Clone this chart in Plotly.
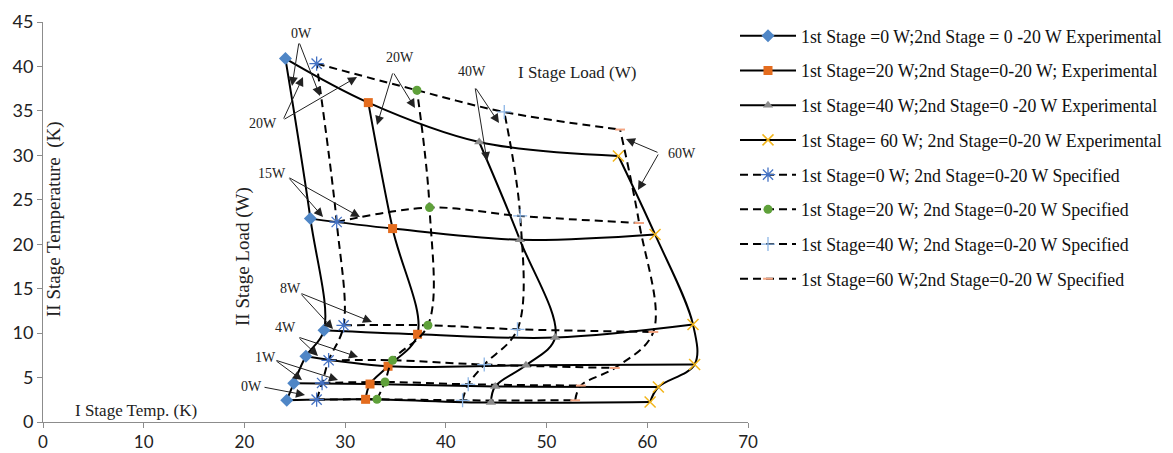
import plotly.graph_objects as go

# ---------------- data ----------------
# 2nd stage loads (W) for each point along a series, bottom to top
loads_2nd = [0, 1, 4, 8, 15, 20]

# Experimental series: I stage temp (x, K) and II stage temp (y, K)
exp0_x = [24.2, 24.9, 26.1, 27.9, 26.55, 24.07]
exp0_y = [2.44, 4.35, 7.39, 10.32, 22.88, 40.88]
exp20_x = [32.03, 32.47, 34.26, 37.19, 34.71, 32.30]
exp20_y = [2.55, 4.27, 6.27, 9.87, 21.76, 35.93]
exp40_x = [44.47, 44.9, 47.95, 50.85, 47.35, 43.31]
exp40_y = [2.18, 4.0, 6.38, 9.5, 20.5, 31.5]
exp60_x = [60.28, 61.1, 64.7, 64.54, 60.77, 57.13]
exp60_y = [2.25, 3.94, 6.46, 10.96, 21.1, 29.93]

# Specified series
spec0_x = [27.17, 27.71, 28.36, 29.85, 29.16, 27.17]
spec0_y = [2.52, 4.39, 6.94, 10.88, 22.5, 40.32]
spec20_x = [33.16, 33.96, 34.71, 38.22, 38.38, 37.13]
spec20_y = [2.55, 4.5, 6.94, 10.88, 24.12, 37.32]
spec40_x = [41.66, 42.22, 43.81, 47.11, 47.38, 45.8]
spec40_y = [2.44, 4.24, 6.46, 10.43, 23.18, 34.88]
spec60_x = [52.84, 53.4, 56.78, 60.6, 59.19, 57.3]
spec60_y = [2.44, 4.1, 6.08, 10.13, 22.39, 32.9]

series_names = [
    "1st Stage =0 W;2nd Stage = 0 -20 W Experimental",
    "1st Stage=20 W;2nd Stage=0-20 W; Experimental",
    "1st Stage=40 W;2nd Stage=0 -20 W Experimental",
    "1st Stage= 60 W; 2nd Stage=0-20 W Experimental",
    "1st Stage=0 W; 2nd Stage=0-20 W Specified",
    "1st Stage=20 W; 2nd Stage=0-20 W Specified",
    "1st Stage=40 W; 2nd Stage=0-20 W Specified",
    "1st Stage=60 W;2nd Stage=0-20 W Specified",
]

x_tick_vals = [0, 10, 20, 30, 40, 50, 60, 70]
y_tick_vals = [0, 5, 10, 15, 20, 25, 30, 35, 40, 45]

# ---------------- styling ----------------
SERIF = "Liberation Serif, Times New Roman, serif"
SANS = "Lato, Open Sans, sans-serif"
DASH = "8px,5px"

exp_sets = [(exp0_x, exp0_y), (exp20_x, exp20_y), (exp40_x, exp40_y), (exp60_x, exp60_y)]
spec_sets = [(spec0_x, spec0_y), (spec20_x, spec20_y), (spec40_x, spec40_y), (spec60_x, spec60_y)]

exp_markers = [
    dict(symbol="diamond", size=10, color="#4F86C6"),
    dict(symbol="square", size=9, color="#E46C1E"),
    dict(symbol="triangle-up", size=9, color="#8C8C8C"),
    dict(symbol="x-thin-open", size=11, color="#F2B51A", line=dict(color="#F2B51A", width=1.5)),
]
spec_markers = [
    dict(symbol="asterisk-open", size=12, color="#4472C4", line=dict(color="#4472C4", width=1.3)),
    dict(symbol="circle", size=9, color="#5FA13A"),
    dict(symbol="cross-thin-open", size=10, color="#8DB6E6", line=dict(color="#8DB6E6", width=1.3)),
    dict(symbol="line-ew-open", size=7, color="#F4A582", line=dict(color="#F4A582", width=2)),
]

fig = go.Figure()

# iso-lines of constant 2nd stage load (connect the series at the same load)
for i, _ld in enumerate(loads_2nd):
    fig.add_trace(go.Scatter(
        x=[s[0][i] for s in exp_sets], y=[s[1][i] for s in exp_sets],
        mode="lines", line=dict(color="black", width=2, shape="spline"),
        showlegend=False, hoverinfo="skip"))
    fig.add_trace(go.Scatter(
        x=[s[0][i] for s in spec_sets], y=[s[1][i] for s in spec_sets],
        mode="lines", line=dict(color="black", width=2, dash=DASH, shape="spline"),
        showlegend=False, hoverinfo="skip"))

for k, (xs, ys) in enumerate(exp_sets):
    fig.add_trace(go.Scatter(
        x=xs, y=ys, mode="lines+markers", name=series_names[k], legendgroup=f"g{k}",
        line=dict(color="black", width=2, shape="spline"), marker=exp_markers[k]))
for k, (xs, ys) in enumerate(spec_sets):
    fig.add_trace(go.Scatter(
        x=xs, y=ys, mode="lines+markers", name=series_names[4 + k], legendgroup=f"g{4+k}",
        line=dict(color="black", width=2, dash=DASH, shape="spline"), marker=spec_markers[k]))

# ---------------- annotations ----------------
L, R, T, B = 43, 425, 22, 31
W, H = 1173, 453
XR = (0, 70)
YR = (0, 45)
PW, PH = W - L - R, H - T - B


def px2x(px):
    return XR[0] + (px - L) / PW * (XR[1] - XR[0])


def py2y(py):
    return YR[0] + (H - B - py) / PH * (YR[1] - YR[0])


annos = []


def label(text, px, py, size=14, angle=0):
    annos.append(dict(text=text, x=px2x(px), y=py2y(py), xref="x", yref="y",
                      showarrow=False, textangle=angle,
                      font=dict(family=SERIF, size=size, color="#222")))


def arrow(tail, head):
    annos.append(dict(text="", x=px2x(head[0]), y=py2y(head[1]), ax=px2x(tail[0]), ay=py2y(tail[1]),
                      xref="x", yref="y", axref="x", ayref="y", showarrow=True,
                      arrowhead=2, arrowsize=1.8, arrowwidth=1, arrowcolor="#222", standoff=0))


label("0W", 301, 33)
arrow((299, 42), (292, 86)); arrow((299, 42), (320, 96))
label("20W", 263, 123)
arrow((283, 120), (303, 77)); arrow((283, 120), (357, 77))
label("20W", 400, 57)
arrow((393, 72), (377, 125)); arrow((393, 72), (415, 108))
label("40W", 472, 71)
arrow((475, 87), (487, 161)); arrow((475, 87), (499, 123))
label("I Stage Load (W)", 577, 72, size=17)
label("60W", 682, 153)
arrow((659, 153), (626, 139)); arrow((659, 153), (638, 190))
label("15W", 272, 173)
arrow((288, 177), (323, 217)); arrow((288, 177), (360, 217))
label("8W", 290, 288)
arrow((300, 293), (333, 329)); arrow((300, 293), (372, 322))
label("4W", 285, 327)
arrow((298, 337), (318, 356)); arrow((298, 337), (358, 357))
label("1W", 265, 357)
arrow((275, 360), (302, 380)); arrow((275, 360), (338, 380))
label("0W", 251, 386)
arrow((263, 387), (305, 395))

label("II Stage Temperature  (K)", 54, 219, size=19, angle=-90)
label("II Stage Load (W)", 243, 257, size=19, angle=-90)
label("I Stage Temp. (K)", 136, 410, size=17)

axis_common = dict(showgrid=False, zeroline=False, showline=True, linecolor="#8C8C8C", linewidth=1,
                   ticks="outside", ticklen=5, tickcolor="#8C8C8C")

fig.update_layout(
    width=W, height=H,
    margin=dict(l=L, r=R, t=T, b=B, autoexpand=False),
    plot_bgcolor="white", paper_bgcolor="white",
    xaxis=dict(range=list(XR), tickvals=x_tick_vals, ticklabelstandoff=0,
               tickfont=dict(family=SANS, size=17, color="#222"), **axis_common),
    yaxis=dict(range=list(YR), tickvals=y_tick_vals, ticklabelstandoff=0,
               tickfont=dict(family=SANS, size=18, color="#222"), **axis_common),
    annotations=annos,
    legend=dict(x=(735 - L) / PW, xanchor="left", y=1.011, yanchor="top",
                font=dict(family=SERIF, size=17.8, color="#111"),
                traceorder="grouped", tracegroupgap=8.6, itemwidth=56, maxheight=440,
                bgcolor="rgba(0,0,0,0)"),
    showlegend=True,
)

fig.write_html(
    "out.html",
    config={"displayModeBar": False},
    post_script="document.body.style.margin='0';document.body.style.overflow='hidden';",
)
